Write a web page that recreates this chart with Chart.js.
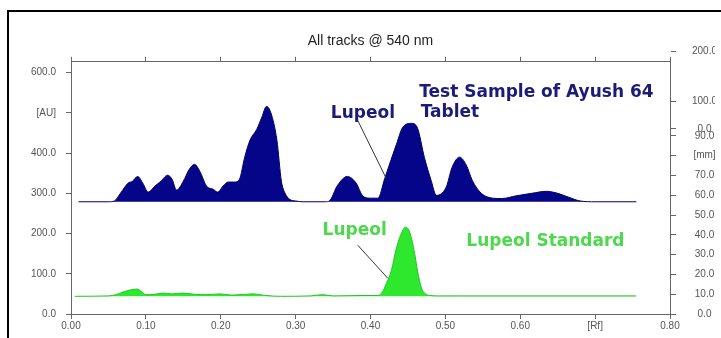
<!DOCTYPE html>
<html>
<head>
<meta charset="utf-8">
<script src="https://cdn.jsdelivr.net/npm/chart.js@4.4.1/dist/chart.umd.min.js"></script>
<style>
html, body { margin: 0; padding: 0; background: #fff; overflow: hidden; }
#wrap { position: relative; width: 721px; height: 338px; }
#frame { position: absolute; left: 7px; top: 10px; width: 720px; height: 340px; border-top: 2px solid #000; border-left: 2px solid #000; }
#chart { position: absolute; left: 0; top: 0; }
</style>
</head>
<body>
<div id="wrap">
  <div id="frame"></div>
  <canvas id="chart" width="721" height="338"></canvas>
</div>
<script>
// test sample track (Rf, AU)
const rfSample = [0.010, 0.050, 0.058, 0.066, 0.076, 0.082, 0.089, 0.096, 0.103, 0.112, 0.120, 0.129, 0.135, 0.141,
  0.150, 0.158, 0.165, 0.172, 0.181, 0.190, 0.196, 0.203, 0.210, 0.219, 0.225, 0.232, 0.239, 0.248, 0.255,
  0.261, 0.267, 0.275, 0.281, 0.286, 0.292, 0.300, 0.310, 0.340, 0.345, 0.356, 0.369, 0.381, 0.389, 0.399,
  0.410, 0.419, 0.435, 0.443, 0.455, 0.463, 0.472, 0.481, 0.488, 0.501, 0.509, 0.519, 0.528, 0.536, 0.548,
  0.563, 0.575, 0.595, 0.615, 0.635, 0.650, 0.665, 0.680, 0.700, 0.755];
const auSample = [279, 279, 281, 300, 325, 330, 342, 325, 303, 318, 330, 345, 335, 308,
  330, 360, 372, 355, 318, 310, 303, 318, 328, 328, 335, 390, 432, 459, 490,
  516, 500, 432, 330, 300, 285, 281, 279, 279, 281, 320, 342, 325, 295, 288,
  288, 337, 424, 464, 474, 461, 389, 332, 295, 315, 365, 390, 370, 332, 300,
  288, 287, 294, 300, 305, 300, 290, 281, 279, 279];

// lupeol standard track (Rf, AU)
const rfStandard = [0.005, 0.050, 0.060, 0.070, 0.080, 0.088, 0.094, 0.100, 0.112, 0.123, 0.135, 0.149, 0.165,
  0.180, 0.199, 0.215, 0.243, 0.260, 0.280, 0.320, 0.336, 0.350, 0.390, 0.410, 0.416, 0.421, 0.428, 0.434,
  0.440, 0.447, 0.453, 0.459, 0.463, 0.468, 0.474, 0.480, 0.490, 0.520, 0.755];
const auStandard = [44, 45, 48, 55, 60, 62, 56, 48, 49, 52, 50, 52, 49,
  48, 50, 47, 50, 46, 44, 45, 48, 45, 46, 46, 55, 75, 109, 159,
  195, 216, 200, 150, 105, 65, 49, 46, 45, 45, 45];

const rfTicks = [0, 0.1, 0.2, 0.3, 0.4, 0.5, 0.6, 0.7, 0.8];
const rfLabels = ['0.00', '0.10', '0.20', '0.30', '0.40', '0.50', '0.60', '[Rf]', '0.80'];
const auTicks = [0, 100, 200, 300, 400, 500, 600];
const auLabels = ['0.0', '100.0', '200.0', '300.0', '400.0', '[AU]', '600.0'];
const mmTicks = [0, 10, 20, 30, 40, 50, 60, 70, 80, 90, 93.5, 107.5, 132.7];
const mmLabels = ['0.0', '10.0', '20.0', '30.0', '40.0', '50.0', '60.0', '70.0', '[mm]', '90.0', '0.0', '100.0', '200.0'];

const axisGrey = '#666';
const tickFont = { family: 'Liberation Sans', size: 10 };

const notes = {
    id: 'notes',
    afterDatasetsDraw(chart, args, opts) {
        const ctx = chart.ctx;
        const x = chart.scales.x, y = chart.scales.y;
        ctx.save();
        opts.lines.forEach(l => {
            ctx.beginPath();
            ctx.strokeStyle = '#333';
            ctx.lineWidth = 1;
            ctx.moveTo(x.getPixelForValue(l[0]), y.getPixelForValue(l[1]));
            ctx.lineTo(x.getPixelForValue(l[2]), y.getPixelForValue(l[3]));
            ctx.stroke();
        });
        ctx.font = 'bold 17px "DejaVu Sans"';
        ctx.textAlign = 'left';
        ctx.textBaseline = 'middle';
        opts.texts.forEach(t => {
            ctx.fillStyle = t.color;
            ctx.fillText(t.text, x.getPixelForValue(t.rf), y.getPixelForValue(t.au));
        });
        ctx.restore();
    }
};

new Chart(document.getElementById('chart'), {
    type: 'line',
    data: {
        datasets: [{
            label: 'Test Sample of Ayush 64 Tablet',
            data: rfSample.map((r, i) => ({ x: r, y: auSample[i] })),
            borderColor: '#000066',
            backgroundColor: '#05058a',
            borderWidth: 1,
            pointRadius: 0,
            cubicInterpolationMode: 'monotone',
            fill: { value: 279 }
        }, {
            label: 'Lupeol Standard',
            data: rfStandard.map((r, i) => ({ x: r, y: auStandard[i] })),
            borderColor: '#22c422',
            backgroundColor: '#2ee82e',
            borderWidth: 1,
            pointRadius: 0,
            cubicInterpolationMode: 'monotone',
            fill: { value: 44 }
        }]
    },
    options: {
        responsive: false,
        animation: false,
        layout: { padding: { left: 31, right: 6, top: 0, bottom: 0 } },
        scales: {
            x: {
                type: 'linear', position: 'bottom', min: 0, max: 0.8,
                afterBuildTicks: s => { s.ticks = rfTicks.map(v => ({ value: v })); },
                afterFit: s => { s.height = 24; },
                ticks: { autoSkip: false, maxRotation: 0, padding: 1, color: '#555', font: tickFont,
                    callback: (v, i) => rfLabels[i] },
                grid: { drawOnChartArea: false, tickLength: 5, color: axisGrey },
                border: { color: axisGrey }
            },
            x2: {
                type: 'linear', position: 'top', min: 0, max: 0.8,
                afterBuildTicks: s => { s.ticks = rfTicks.map(v => ({ value: v })); },
                afterFit: s => { s.height = 5; },
                ticks: { display: false },
                grid: { drawOnChartArea: false, tickLength: 5, color: axisGrey },
                border: { color: axisGrey }
            },
            y: {
                type: 'linear', position: 'left', min: 0, max: 627,
                afterBuildTicks: s => { s.ticks = auTicks.map(v => ({ value: v })); },
                afterFit: s => { s.width = 40; },
                ticks: { autoSkip: false, padding: 10, color: '#555', font: tickFont,
                    callback: (v, i) => auLabels[i] },
                grid: { drawOnChartArea: false, tickLength: 5, color: axisGrey },
                border: { color: axisGrey }
            },
            y2: {
                type: 'linear', position: 'right', min: 0, max: 127.4,
                afterBuildTicks: s => { s.ticks = mmTicks.map(v => ({ value: v })); },
                afterFit: s => { s.width = 45; },
                ticks: { autoSkip: false, padding: 16, crossAlign: 'center', color: '#555', font: tickFont,
                    callback: (v, i) => mmLabels[i] },
                grid: { drawOnChartArea: false, tickLength: 6, color: axisGrey },
                border: { color: axisGrey }
            }
        },
        plugins: {
            legend: { display: false },
            tooltip: { enabled: false },
            title: {
                display: true,
                text: 'All tracks @ 540 nm',
                fullSize: false,
                color: '#222',
                font: { family: 'Liberation Sans', size: 14, weight: 'normal' },
                padding: { top: 33, bottom: 7 }
            },
            notes: {
                lines: [[0.383, 481, 0.421, 337], [0.383, 171, 0.423, 89]],
                texts: [
                    { text: 'Lupeol', rf: 0.347, au: 498, color: '#1c1c78' },
                    { text: 'Test Sample of Ayush 64', rf: 0.465, au: 550, color: '#1c1c78' },
                    { text: 'Tablet', rf: 0.467, au: 501, color: '#1c1c78' },
                    { text: 'Lupeol', rf: 0.336, au: 208, color: '#4cd94c' },
                    { text: 'Lupeol Standard', rf: 0.528, au: 179, color: '#4cd94c' }
                ]
            }
        }
    },
    plugins: [notes]
});
</script>
</body>
</html>
